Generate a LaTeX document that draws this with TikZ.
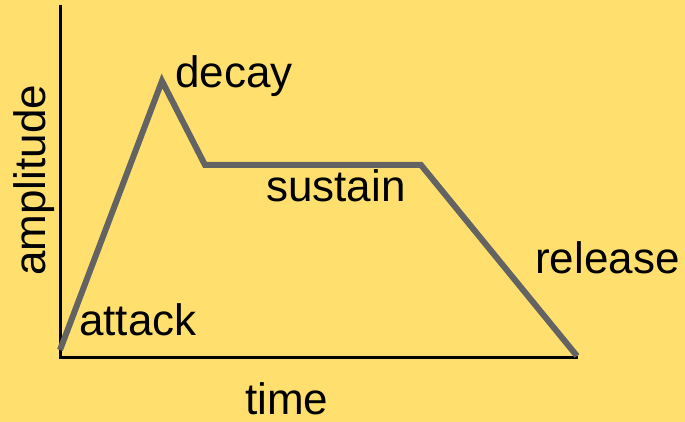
\documentclass[tikz,border=0pt]{standalone}
\usepackage{fontspec}
\setmainfont{Liberation Sans}
\definecolor{bgyellow}{HTML}{FFE06E}
\definecolor{envgray}{HTML}{636363}
\tikzset{
  lbl/.style={anchor=base west, inner sep=0pt, font=\fontsize{44}{50}\selectfont, text=black},
  axisline/.style={black, line width=3pt},
  envline/.style={envgray, line width=6pt, line join=miter},
}
\begin{document}
\begin{tikzpicture}[x=1pt,y=-1pt]
\fill[bgyellow] (0,0) rectangle (685,422);
\useasboundingbox (0,0) rectangle (685,422);
\coordinate (top) at (60,5);
\coordinate (origin) at (60,357);
\coordinate (xend) at (578,357);
\draw[axisline] (top) -- (origin) -- (xend);
\coordinate (s) at (60,350);
\coordinate (peak) at (162,81);
\coordinate (dend) at (205,165);
\coordinate (rstart) at (421,165);
\coordinate (e) at (577,356);
\draw[envline] (s) -- (peak) -- (dend) -- (rstart) -- (e);
\node[lbl] (decay) at (175,88) {decay};
\node[lbl] (sustain) at (266,202) {sustain};
\node[lbl] (release) at (535,273) {release};
\node[lbl] (attack) at (79,335) {attack};
\node[lbl] (time) at (245,414) {time};
\node[lbl, rotate=90] (amp) at (45,276) {amplitude};
\end{tikzpicture}
\end{document}
